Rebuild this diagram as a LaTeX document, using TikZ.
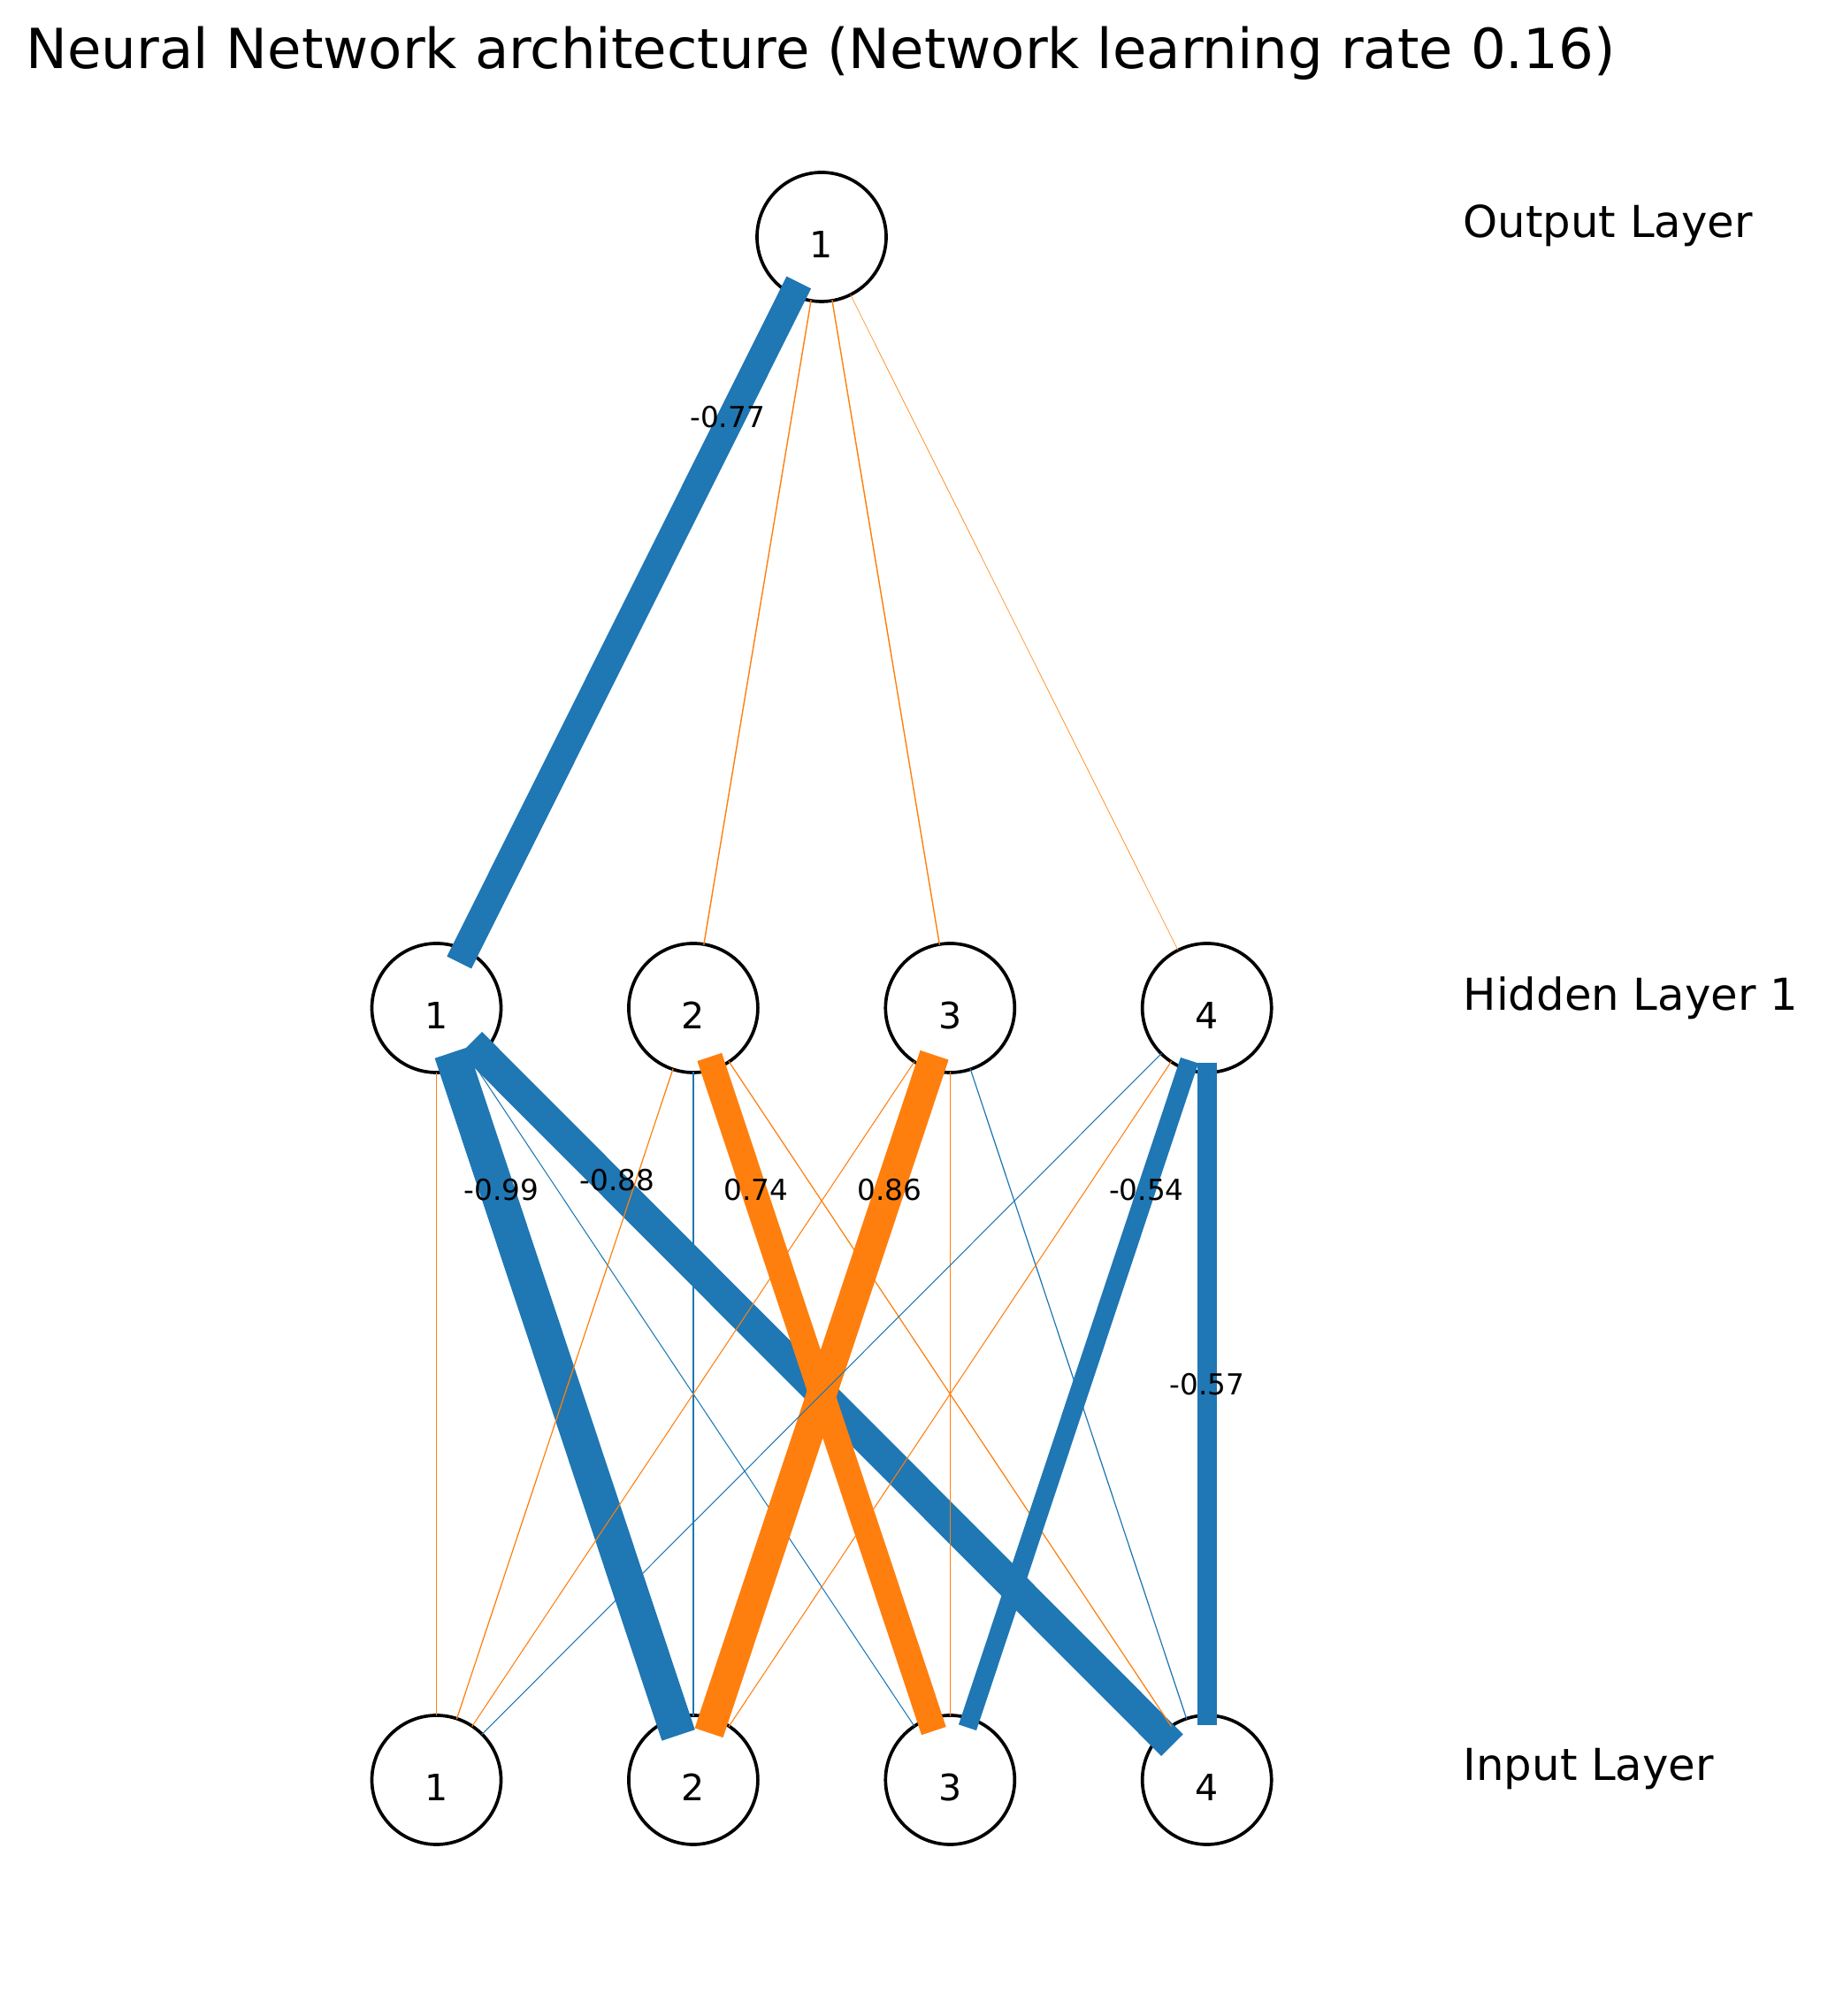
\documentclass[tikz,border=0pt]{standalone}
\usepackage{fontspec}
\setmainfont{DejaVu Sans}
\usepackage{xcolor}
\usepackage{tikz}
\usetikzlibrary{calc}
\definecolor{negw}{HTML}{1F77B4}
\definecolor{posw}{HTML}{FF7F0E}

\begin{document}
\begin{tikzpicture}[
		neuron/.style={draw, circle, line width=1.05pt, minimum size=1.46cm, inner sep=0pt, outer sep=0pt, font=\fontsize{11.7}{12}\selectfont, text height=0.48cm, text depth=0pt},
		wire/.style={line cap=rect},
		weight/.style={inner sep=0pt, font=\fontsize{9.3}{10}\selectfont},
		layer/.style={anchor=base west, inner sep=0pt, font=\fontsize{14.15}{16}\selectfont}
	]
				\useasboundingbox (0,0) rectangle (20.66,22.80);
				\node[anchor=base west, inner sep=0pt, font=\fontsize{17.8}{20}\selectfont] (title) at (0.29,22.02) {Neural Network architecture (Network learning rate 0.16)};
				\node[neuron] (o1) at (9.29,20.12) {1};
				\node[neuron] (h1) at (4.935,11.40) {1};
				\node[neuron] (h2) at (7.839,11.40) {2};
				\node[neuron] (h3) at (10.743,11.40) {3};
				\node[neuron] (h4) at (13.647,11.40) {4};
				\node[neuron] (i1) at (4.935,2.67) {1};
				\node[neuron] (i2) at (7.839,2.67) {2};
				\node[neuron] (i3) at (10.743,2.67) {3};
				\node[neuron] (i4) at (13.647,2.67) {4};
				\node[layer] (lout) at (16.54,20.11) {Output Layer};
				\node[layer] (lhid) at (16.54,11.37) {Hidden Layer 1};
				\node[layer] (linp) at (16.54,2.66) {Input Layer};
				\draw[wire, posw, line width=0.07pt] (h1) -- (i1);
				\draw[wire, negw, line width=11.2pt] (h1) -- (i2);
				\draw[wire, negw, line width=0.3pt] (h1) -- (i3);
				\draw[wire, negw, line width=9.9pt] (h1) -- (i4);
				\draw[wire, posw, line width=0.35pt] (h2) -- (i1);
				\draw[wire, negw, line width=0.4pt] (h2) -- (i2);
				\draw[wire, posw, line width=8.3pt] (h2) -- (i3);
				\draw[wire, posw, line width=0.35pt] (h2) -- (i4);
				\draw[wire, posw, line width=0.3pt] (h3) -- (i1);
				\draw[wire, posw, line width=9.6pt] (h3) -- (i2);
				\draw[wire, posw, line width=0.3pt] (h3) -- (i3);
				\draw[wire, negw, line width=0.35pt] (h3) -- (i4);
				\draw[wire, negw, line width=0.3pt] (h4) -- (i1);
				\draw[wire, posw, line width=0.3pt] (h4) -- (i2);
				\draw[wire, negw, line width=6.0pt] (h4) -- (i3);
				\draw[wire, negw, line width=6.3pt] (h4) -- (i4);
				\draw[wire, negw, line width=8.8pt] (o1) -- (h1);
				\draw[wire, posw, line width=0.4pt] (o1) -- (h2);
				\draw[wire, posw, line width=0.4pt] (o1) -- (h3);
				\draw[wire, posw, line width=0.18pt] (o1) -- (h4);
				\node[weight] (w77) at ($(o1)!0.233!(h1)+(-0.05,0)$) {-0.77};
				\node[weight] (w99) at ($(h1)!0.235!(i2)+(0.05,0)$) {-0.99};
				\node[weight] (w88) at ($(h1)!0.223!(i4)+(0.1,0)$) {-0.88};
				\node[weight] (w74) at ($(h2)!0.235!(i3)+(0.03,0)$) {0.74};
				\node[weight] (w86) at ($(h3)!0.235!(i2)$) {0.86};
				\node[weight] (w54) at ($(h4)!0.235!(i3)$) {-0.54};
				\node[weight] (w57) at ($(h4)!0.488!(i4)$) {-0.57};
			\end{tikzpicture}
\end{document}
